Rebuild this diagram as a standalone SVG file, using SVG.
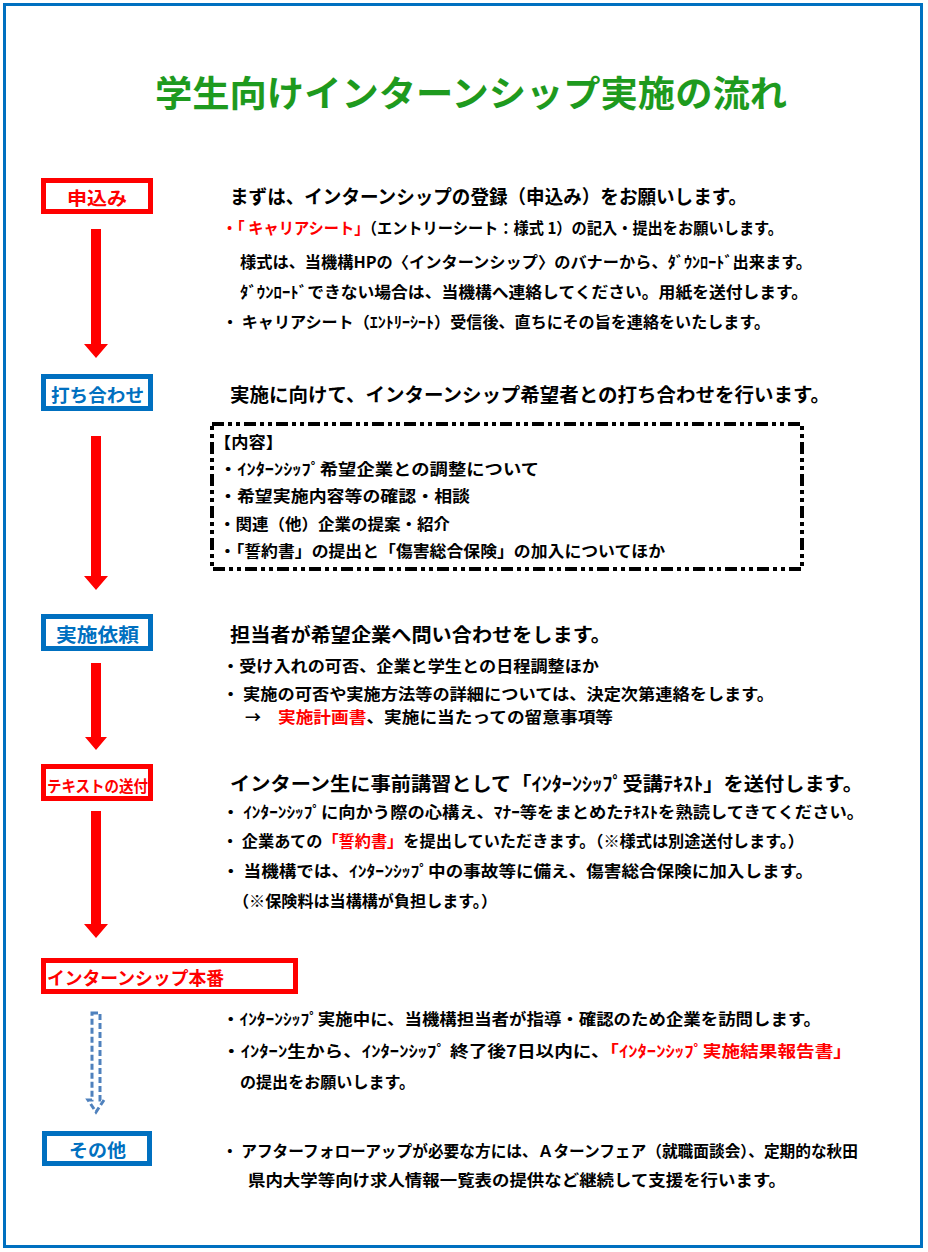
<svg xmlns="http://www.w3.org/2000/svg" width="928" height="1252" viewBox="0 0 928 1252">
<style>
text { font-family: 'Noto Sans CJK JP', 'Noto Sans CJK SC', sans-serif; font-weight: 700; fill: #000; }
.title { font-size: 36px; fill: #1e9a1e; }
.h { font-size: 19px; }
.b { font-size: 16px; }
.r { fill: #ff0000; }
.bl { fill: #0070c0; }
.rbox { fill: #fff; stroke: #ff0000; stroke-width: 5; }
.bbox { fill: #fff; stroke: #0070c0; stroke-width: 5; }
.arrow { fill: #ff0000; stroke: none; }
.darrow { fill: none; stroke: #4f81bd; stroke-width: 3; stroke-dasharray: 6 3; }
.dash { fill: none; stroke: #000; stroke-width: 4; stroke-dasharray: 12 4 4 4 4 4; }
</style>
<rect x="4.5" y="4.5" width="917" height="1242" fill="#fff" stroke="#0070c0" stroke-width="3"/>
<text class="title" x="155" y="107" textLength="632" lengthAdjust="spacingAndGlyphs">学生向けインターンシップ実施の流れ</text>

<g id="connectors">
  <path class="arrow" d="M91,229 H101 V344 H108 L96,358 L84,344 H91 Z"/>
  <path class="arrow" d="M91,436 H101 V576 H108 L96,590 L84,576 H91 Z"/>
  <path class="arrow" d="M91,663 H101 V737 H107 L96,750 L85,737 H91 Z"/>
  <path class="arrow" d="M91,811 H101 V924 H108 L96,938 L84,924 H91 Z"/>
  <path class="darrow" d="M92,1013 H100 V1100 H104 L96,1112 L88,1100 H92 Z"/>
</g>

<g id="node-moushikomi">
  <rect class="rbox" x="43.5" y="180.5" width="107" height="31"/>
  <text class="r" x="67" y="205" font-size="18" textLength="60" lengthAdjust="spacingAndGlyphs">申込み</text>
</g>
<g id="node-uchiawase">
  <rect class="bbox" x="43.5" y="376.5" width="107" height="32"/>
  <text class="bl" x="51" y="402" font-size="18" textLength="93" lengthAdjust="spacingAndGlyphs">打ち合わせ</text>
</g>
<g id="node-irai">
  <rect class="bbox" x="43.5" y="616.5" width="107" height="32"/>
  <text class="bl" x="56" y="642" font-size="19" textLength="83" lengthAdjust="spacingAndGlyphs">実施依頼</text>
</g>
<g id="node-text">
  <rect class="rbox" x="43.5" y="766.5" width="107" height="32"/>
  <text class="r" x="47" y="792" font-size="16" textLength="101" lengthAdjust="spacingAndGlyphs">テキストの送付</text>
</g>
<g id="node-honban">
  <rect class="rbox" x="43.5" y="960.5" width="252" height="31"/>
  <text class="r" x="47" y="985" font-size="18" textLength="177" lengthAdjust="spacingAndGlyphs">インターンシップ本番</text>
</g>
<g id="node-sonota">
  <rect class="bbox" x="44.5" y="1133.5" width="105" height="30"/>
  <text class="bl" x="69" y="1157" font-size="18" textLength="57" lengthAdjust="spacingAndGlyphs">その他</text>
</g>

<g id="text-moushikomi">
  <text class="h" x="230" y="204" textLength="517" lengthAdjust="spacingAndGlyphs">まずは、インターンシップの登録（申込み）をお願いします。</text>
  <text class="b" x="222" y="234" textLength="561" lengthAdjust="spacingAndGlyphs"><tspan class="r">・「 キャリアシート」</tspan>（エントリーシート：様式 1）の記入・提出をお願いします。</text>
  <text class="b" x="240" y="268" textLength="572" lengthAdjust="spacingAndGlyphs">様式は、当機構HPの〈インターンシップ〉のバナーから、ﾀﾞｳﾝﾛｰﾄﾞ出来ます。</text>
  <text class="b" x="240" y="298" textLength="568" lengthAdjust="spacingAndGlyphs">ﾀﾞｳﾝﾛｰﾄﾞできない場合は、当機構へ連絡してください。用紙を送付します。</text>
  <text class="b" x="222" y="328" textLength="548" lengthAdjust="spacingAndGlyphs">・ キャリアシート（ｴﾝﾄﾘｰｼｰﾄ）受信後、直ちにその旨を連絡をいたします。</text>
</g>

<g id="text-uchiawase">
  <text class="h" x="230" y="402" font-size="20" textLength="600" lengthAdjust="spacingAndGlyphs">実施に向けて、インターンシップ希望者との打ち合わせを行います。</text>
  <rect class="dash" x="212" y="424" width="590" height="145"/>
  <text class="b" x="214" y="448" font-size="17" textLength="69" lengthAdjust="spacingAndGlyphs">【内容】</text>
  <text class="b" x="219" y="475" textLength="320" lengthAdjust="spacingAndGlyphs">・ｲﾝﾀｰﾝｼｯﾌﾟ希望企業との調整について</text>
  <text class="b" x="219" y="502" textLength="251" lengthAdjust="spacingAndGlyphs">・希望実施内容等の確認・相談</text>
  <text class="b" x="219" y="530" textLength="231" lengthAdjust="spacingAndGlyphs">・関連（他）企業の提案・紹介</text>
  <text class="b" x="219" y="557" textLength="446" lengthAdjust="spacingAndGlyphs">・「誓約書」の提出と「傷害総合保険」の加入についてほか</text>
</g>

<g id="text-irai">
  <text class="h" x="230" y="642" font-size="20" textLength="381" lengthAdjust="spacingAndGlyphs">担当者が希望企業へ問い合わせをします。</text>
  <text class="b" x="222" y="672" textLength="377" lengthAdjust="spacingAndGlyphs">・受け入れの可否、企業と学生との日程調整ほか</text>
  <text class="b" x="222" y="700" font-size="15" textLength="552" lengthAdjust="spacingAndGlyphs">・ 実施の可否や実施方法等の詳細については、決定次第連絡をします。</text>
  <text class="b" x="245" y="723" font-size="15">→</text>
  <text class="b" x="278" y="723" font-size="15.5" textLength="335" lengthAdjust="spacingAndGlyphs"><tspan class="r">実施計画書</tspan>、実施に当たっての留意事項等</text>
</g>

<g id="text-text">
  <text class="h" x="230" y="791" textLength="633" lengthAdjust="spacingAndGlyphs">インターン生に事前講習として「ｲﾝﾀｰﾝｼｯﾌﾟ受講ﾃｷｽﾄ」を送付します。</text>
  <text class="b" x="222" y="818" textLength="642" lengthAdjust="spacingAndGlyphs">・ ｲﾝﾀｰﾝｼｯﾌﾟに向かう際の心構え、ﾏﾅｰ等をまとめたﾃｷｽﾄを熟読してきてください。</text>
  <text class="b" x="222" y="847" textLength="582" lengthAdjust="spacingAndGlyphs">・ 企業あての<tspan class="r">「誓約書」</tspan>を提出していただきます。（※様式は別途送付します。）</text>
  <text class="b" x="222" y="877" textLength="591" lengthAdjust="spacingAndGlyphs">・ 当機構では、ｲﾝﾀｰﾝｼｯﾌﾟ中の事故等に備え、傷害総合保険に加入します。</text>
  <text class="b" x="233" y="907" textLength="264" lengthAdjust="spacingAndGlyphs">（※保険料は当構構が負担します。）</text>
</g>

<g id="text-honban">
  <text class="b" x="222" y="1025" textLength="599" lengthAdjust="spacingAndGlyphs">・ｲﾝﾀｰﾝｼｯﾌﾟ実施中に、当機構担当者が指導・確認のため企業を訪問します。</text>
  <text class="b" x="222" y="1057" textLength="630" lengthAdjust="spacingAndGlyphs">・ｲﾝﾀｰﾝ生から、ｲﾝﾀｰﾝｼｯﾌﾟ 終了後7日以内に、<tspan class="r">「ｲﾝﾀｰﾝｼｯﾌﾟ実施結果報告書」</tspan></text>
  <text class="b" x="240" y="1088" textLength="175" lengthAdjust="spacingAndGlyphs">の提出をお願いします。</text>
</g>

<g id="text-sonota">
  <text class="b" x="222" y="1157" textLength="636" lengthAdjust="spacingAndGlyphs">・ アフターフォローアップが必要な方には、Ａターンフェア（就職面談会）、定期的な秋田</text>
  <text class="b" x="248" y="1186" textLength="538" lengthAdjust="spacingAndGlyphs">県内大学等向け求人情報一覧表の提供など継続して支援を行います。</text>
</g>
</svg>
